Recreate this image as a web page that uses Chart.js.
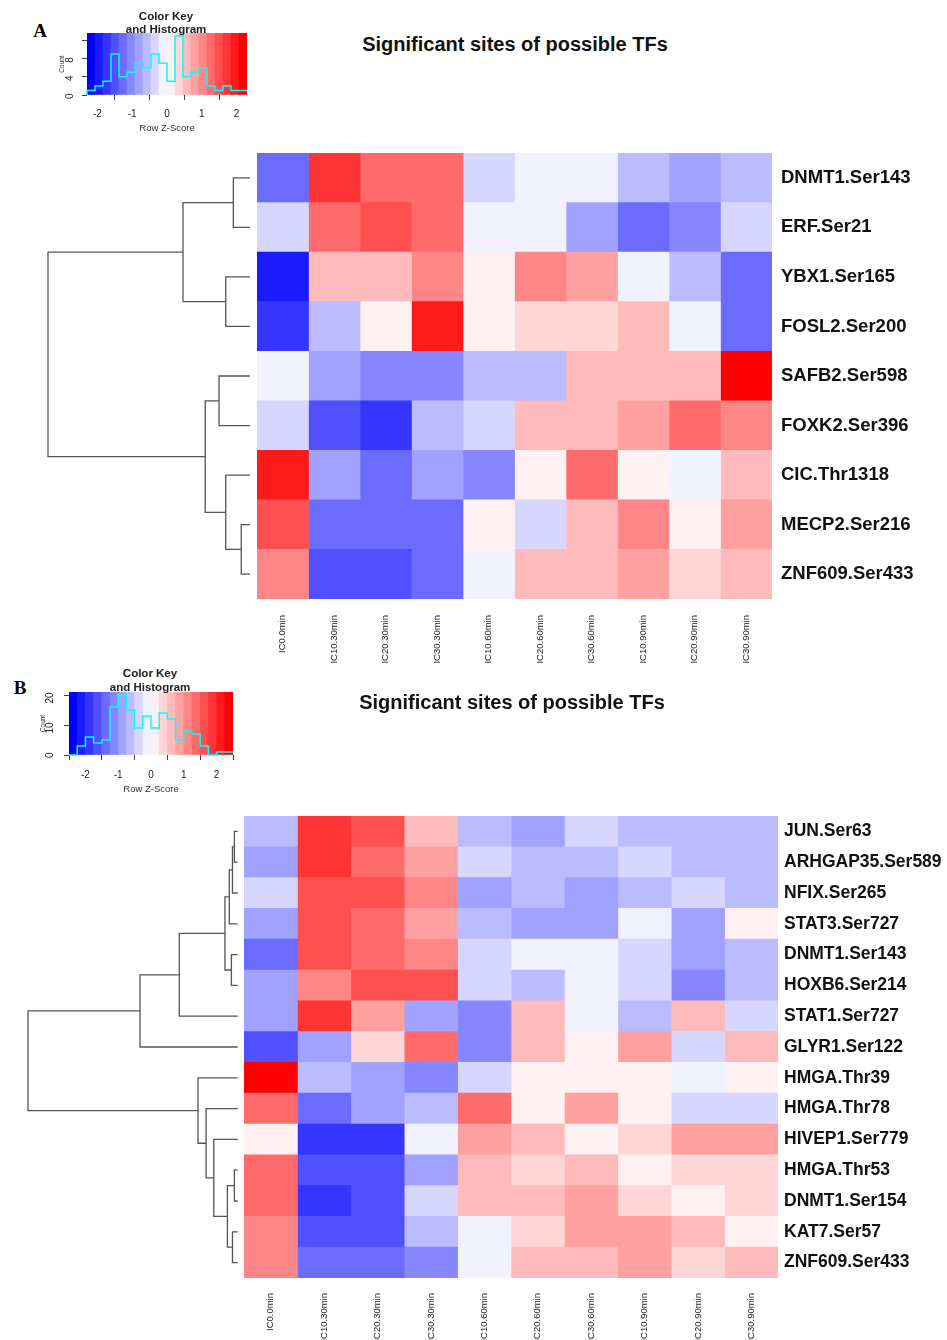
<!DOCTYPE html>
<html>
<head>
<meta charset="utf-8">
<script src="https://cdn.jsdelivr.net/npm/chart.js@4.4.1/dist/chart.umd.min.js"></script>
<style>
  body { margin: 0; width: 947px; height: 1340px; background: #fff; position: relative; overflow: hidden; font-family: "Liberation Sans", Arial, sans-serif; }
  .box { position: absolute; }
  .txt { position: absolute; transform: translate(-50%, -50%); white-space: nowrap; line-height: 1; color: #111; }
  .panel { font-family: "Liberation Serif", "Times New Roman", serif; font-weight: bold; font-size: 19px; color: #000; }
  .title { font-weight: bold; font-size: 20px; color: #111; }
  .keytitle { font-weight: bold; font-size: 11.5px; color: #222; }
</style>
</head>
<body>

<div class="box" style="left:50px;top:23px;width:200px;height:115px"><canvas id="keyA"></canvas></div>
<div class="box" style="left:40px;top:153px;width:212px;height:446px"><canvas id="dendA"></canvas></div>
<div class="box" style="left:257px;top:153px;width:685px;height:521px"><canvas id="heatA"></canvas></div>

<div class="box" style="left:30px;top:682px;width:205px;height:116px"><canvas id="keyB"></canvas></div>
<div class="box" style="left:20px;top:816px;width:220px;height:462px"><canvas id="dendB"></canvas></div>
<div class="box" style="left:244px;top:816px;width:703px;height:524px"><canvas id="heatB"></canvas></div>

<div class="txt panel" style="left:40px;top:30px">A</div>
<div class="txt keytitle" style="left:166px;top:17px">Color Key</div>
<div class="txt keytitle" style="left:166px;top:30px">and Histogram</div>
<div class="txt title" style="left:515px;top:44px">Significant sites of possible TFs</div>

<div class="txt panel" style="left:20px;top:687px">B</div>
<div class="txt keytitle" style="left:150px;top:674px">Color Key</div>
<div class="txt keytitle" style="left:150px;top:688px">and Histogram</div>
<div class="txt title" style="left:512px;top:702px">Significant sites of possible TFs</div>

<script>
// column labels (same for both panels)
const timePoints = ['IC0.0min', 'IC10.30min', 'IC20.30min', 'IC30.30min', 'IC10.60min',
  'IC20.60min', 'IC30.60min', 'IC10.90min', 'IC20.90min', 'IC30.90min'];

// ---- panel A ----
const sitesA = ['DNMT1.Ser143', 'ERF.Ser21', 'YBX1.Ser165', 'FOSL2.Ser200', 'SAFB2.Ser598',
  'FOXK2.Ser396', 'CIC.Thr1318', 'MECP2.Ser216', 'ZNF609.Ser433'];
// row z-scores
const zA = [
  [-1.3, 1.7, 1.3, 1.3, -0.3, -0.1, -0.1, -0.6, -0.8, -0.6],
  [-0.3, 1.3, 1.5, 1.3, -0.1, -0.1, -0.8, -1.3, -1.0, -0.3],
  [-2.0, 0.6, 0.6, 1.0, 0.1, 1.0, 0.8, -0.1, -0.6, -1.3],
  [-1.7, -0.6, 0.1, 2.0, 0.1, 0.3, 0.3, 0.6, -0.1, -1.3],
  [-0.1, -0.8, -1.0, -1.0, -0.6, -0.6, 0.6, 0.6, 0.6, 2.2],
  [-0.3, -1.5, -1.7, -0.6, -0.3, 0.6, 0.6, 0.8, 1.3, 1.0],
  [2.0, -0.8, -1.3, -0.8, -1.0, 0.1, 1.3, 0.1, -0.1, 0.6],
  [1.5, -1.3, -1.3, -1.3, 0.1, -0.3, 0.6, 1.0, 0.1, 0.8],
  [1.0, -1.5, -1.5, -1.3, -0.1, 0.6, 0.6, 0.8, 0.3, 0.6]
];
const histA = [0, 1, 2, 3, 9, 4, 5, 7, 6, 9, 7, 3, 13, 4, 5, 6, 2, 1, 2, 1];
const keyRangeA = 2.3;
const countMaxA = 13.65;
const countTicksA = [0, 4, 8, 12];
const countLabelsA = [0, 4, 8];
// row dendrogram: negative = leaf (1-based), positive = earlier merge
const mergeA = [[-8, -9], [-1, -2], [-3, -4], [-7, 1], [-5, -6], [5, 4], [2, 3], [7, 6]];
const heightA = [0.52, 0.99, 1.44, 1.44, 1.84, 2.66, 3.98, 12.0];

// ---- panel B ----
const sitesB = ['JUN.Ser63', 'ARHGAP35.Ser589', 'NFIX.Ser265', 'STAT3.Ser727', 'DNMT1.Ser143',
  'HOXB6.Ser214', 'STAT1.Ser727', 'GLYR1.Ser122', 'HMGA.Thr39', 'HMGA.Thr78', 'HIVEP1.Ser779',
  'HMGA.Thr53', 'DNMT1.Ser154', 'KAT7.Ser57', 'ZNF609.Ser433'];
const zB = [
  [-0.6, 1.9, 1.6, 0.6, -0.6, -0.9, -0.4, -0.6, -0.6, -0.6],
  [-0.9, 1.9, 1.4, 0.9, -0.4, -0.6, -0.6, -0.4, -0.6, -0.6],
  [-0.4, 1.6, 1.6, 1.1, -0.9, -0.6, -0.9, -0.6, -0.4, -0.6],
  [-0.9, 1.6, 1.4, 0.9, -0.6, -0.9, -0.9, -0.1, -0.9, 0.1],
  [-1.4, 1.6, 1.4, 1.1, -0.4, -0.1, -0.1, -0.4, -0.9, -0.6],
  [-0.9, 1.1, 1.6, 1.6, -0.4, -0.6, -0.1, -0.4, -1.1, -0.6],
  [-0.9, 1.9, 0.9, -0.9, -1.1, 0.6, -0.1, -0.6, 0.6, -0.4],
  [-1.6, -0.9, 0.4, 1.4, -1.1, 0.6, 0.1, 0.9, -0.4, 0.6],
  [2.4, -0.6, -0.9, -1.1, -0.4, 0.1, 0.1, 0.1, -0.1, 0.1],
  [1.4, -1.4, -0.9, -0.6, 1.4, 0.1, 0.9, 0.1, -0.4, -0.4],
  [0.1, -1.9, -1.9, -0.1, 0.9, 0.6, 0.1, 0.4, 0.9, 0.9],
  [1.4, -1.6, -1.6, -0.9, 0.6, 0.4, 0.6, 0.1, 0.4, 0.4],
  [1.4, -1.9, -1.6, -0.4, 0.6, 0.6, 0.9, 0.4, 0.1, 0.4],
  [1.1, -1.6, -1.6, -0.6, -0.1, 0.4, 0.9, 0.9, 0.6, 0.1],
  [1.1, -1.4, -1.4, -1.1, -0.1, 0.6, 0.6, 0.9, 0.4, 0.6]
];
const histB = [0, 0, 3, 6, 4, 5, 16, 20, 15, 9, 13, 9, 14, 12, 5, 8, 7, 3, 0, 1];
const keyRangeB = 2.5;
const countMaxB = 21;
const countTicksB = [0, 10, 20];
const countLabelsB = [0, 10, 20];
const mergeB = [[-1, -2], [-12, -13], [1, -3], [-14, -15], [-5, -6], [3, -4], [2, 4], [6, 5],
  [-11, 7], [-10, 9], [-9, 10], [8, -7], [12, -8], [13, 11]];
const heightB = [0.19, 0.19, 0.30, 0.30, 0.36, 0.48, 0.59, 0.73, 1.37, 1.81, 2.27, 3.34, 5.59, 12.0];

const zTicks = [-2, -1, 0, 1, 2];

// blue-white-red key, 20 steps
const palette = ['#0000FF', '#1A1AFF', '#3535FF', '#5050FF', '#6B6BFF', '#8686FF', '#A1A1FF',
  '#BBBBFF', '#D6D6FF', '#F1F1FF', '#FFF1F1', '#FFD6D6', '#FFBBBB', '#FFA1A1', '#FF8686',
  '#FF6B6B', '#FF5050', '#FF3535', '#FF1A1A', '#FF0000'];

Chart.defaults.font.family = '"Liberation Sans", Arial, sans-serif';
Chart.defaults.animation = false;
Chart.defaults.events = [];
Chart.defaults.plugins.legend.display = false;
Chart.defaults.plugins.tooltip.enabled = false;

function colorFor(z, range) {
  const step = 2 * range / palette.length;
  let i = Math.floor((z + range) / step);
  return palette[Math.max(0, Math.min(palette.length - 1, i))];
}

// keep the plot area exactly where the container says
function noPad(s) {
  s.paddingTop = 0; s.paddingBottom = 0; s.paddingLeft = 0; s.paddingRight = 0;
}

function heatmap(id, rows, values, range, opt) {
  new Chart(document.getElementById(id), {
    type: 'bar',
    data: {
      labels: rows,
      datasets: timePoints.map((t, j) => ({
        data: rows.map(() => [j, j + 1]),
        backgroundColor: rows.map((r, i) => colorFor(values[i][j], range)),
        borderWidth: 0,
        grouped: false,
        barPercentage: 1,
        categoryPercentage: 1
      }))
    },
    options: {
      indexAxis: 'y',
      responsive: true,
      maintainAspectRatio: false,
      layout: { padding: 0 },
      scales: {
        x: {
          type: 'linear', min: 0, max: timePoints.length,
          grid: { display: false, drawTicks: false },
          border: { display: false },
          afterBuildTicks: s => { s.ticks = timePoints.map((t, j) => ({ value: j + 0.5 })); },
          ticks: {
            autoSkip: false, minRotation: 90, maxRotation: 90,
            callback: (v, i) => timePoints[i],
            font: { size: 9.5 }, color: '#222', padding: opt.colPad
          },
          afterFit: s => { s.height = opt.colH; noPad(s); }
        },
        y: {
          position: 'right',
          grid: { display: false, drawTicks: false },
          border: { display: false },
          ticks: { font: { size: opt.rowFont, weight: 'bold' }, color: '#111', padding: opt.rowPad },
          afterFit: s => { s.width = opt.rowW; noPad(s); }
        }
      }
    }
  });
}

function dendrogram(id, merges, heights, n, pad) {
  const nodes = [];
  const pos = k => (k < 0 ? { y: -k - 1, h: 0 } : nodes[k - 1]);
  const datasets = merges.map((m, i) => {
    const a = pos(m[0]), b = pos(m[1]), h = heights[i];
    nodes.push({ y: (a.y + b.y) / 2, h: h });
    return {
      data: [{ x: a.h, y: a.y }, { x: h, y: a.y }, { x: h, y: b.y }, { x: b.h, y: b.y }],
      showLine: true, pointRadius: 0, borderColor: '#555', borderWidth: 1.3, clip: false
    };
  });
  const top = Math.max(...heights);
  new Chart(document.getElementById(id), {
    type: 'scatter',
    data: { datasets },
    options: {
      responsive: true,
      maintainAspectRatio: false,
      layout: { padding: pad },
      scales: {
        x: { type: 'linear', min: 0, max: top, reverse: true, display: false },
        y: { type: 'linear', min: -0.5, max: n - 0.5, reverse: true, display: false }
      }
    }
  });
}

function colorKey(id, range, counts, countMax, countTicks, countLabels, opt) {
  const step = 2 * range / palette.length;
  const centers = palette.map((c, i) => -range + step * (i + 0.5));
  const breaks = counts.map((c, i) => -range + step * i).concat([range]);
  const tickGrid = { display: true, drawOnChartArea: false, drawTicks: true, tickLength: 5, color: '#444' };
  new Chart(document.getElementById(id), {
    type: 'bar',
    data: {
      datasets: [
        {
          type: 'line', order: 1,
          data: breaks.map((b, i) => ({ x: b, y: counts[Math.min(i, counts.length - 1)] })),
          stepped: 'after', borderColor: '#00FFFF', borderWidth: 1.5, pointRadius: 0, fill: false, clip: false
        },
        {
          type: 'bar', order: 2,
          data: centers.map(c => ({ x: c, y: [0, countMax] })),
          backgroundColor: palette, borderWidth: 0, barPercentage: 1, categoryPercentage: 1
        }
      ]
    },
    options: {
      responsive: true,
      maintainAspectRatio: false,
      layout: { padding: { left: 0, right: opt.right, top: 10, bottom: 0 } },
      scales: {
        x: {
          type: 'linear', min: -range, max: range, offset: false,
          grid: tickGrid, border: { display: false },
          afterBuildTicks: s => { s.ticks = zTicks.map(v => ({ value: v })); },
          ticks: { autoSkip: false, maxRotation: 0, color: '#222', font: { size: 10 }, padding: opt.xPad },
          title: { display: true, text: 'Row Z-Score', color: '#333', font: { size: 9.5 }, padding: { top: 0, bottom: opt.titleBottom } },
          afterFit: s => { s.height = 43; noPad(s); }
        },
        y: {
          type: 'linear', min: 0, max: countMax,
          grid: tickGrid, border: { display: false },
          afterBuildTicks: s => { s.ticks = countTicks.map(v => ({ value: v })); },
          ticks: {
            autoSkip: false, minRotation: 90, maxRotation: 90, color: '#222', font: { size: 10 },
            padding: opt.yPad, labelOffset: opt.yShift,
            callback: v => (countLabels.includes(v) ? v : '')
          },
          title: { display: true, text: 'Count', color: '#333', font: { size: 6.5 }, padding: { top: opt.countPad, bottom: 0 } },
          afterFit: s => { s.width = opt.yW; noPad(s); }
        }
      }
    }
  });
}

colorKey('keyA', keyRangeA, histA, countMaxA, countTicksA, countLabelsA, { right: 3, yW: 37, yPad: 12, yShift: -1.5, xPad: 8, countPad: 8, titleBottom: 4 });
dendrogram('dendA', mergeA, heightA, sitesA.length, { left: 8, right: 2, top: 0, bottom: 0 });
heatmap('heatA', sitesA, zA, keyRangeA, { colPad: 16, colH: 75, rowFont: 18.5, rowPad: 9, rowW: 170 });

colorKey('keyB', keyRangeB, histB, countMaxB, countTicksB, countLabelsB, { right: 2, yW: 39, yPad: 14, yShift: -2.5, xPad: 9, countPad: 9, titleBottom: 3 });
dendrogram('dendB', mergeB, heightB, sitesB.length, { left: 8, right: 2.3, top: 0, bottom: 0 });
heatmap('heatB', sitesB, zB, keyRangeB, { colPad: 15, colH: 62, rowFont: 17.5, rowPad: 6, rowW: 169 });
</script>
</body>
</html>
